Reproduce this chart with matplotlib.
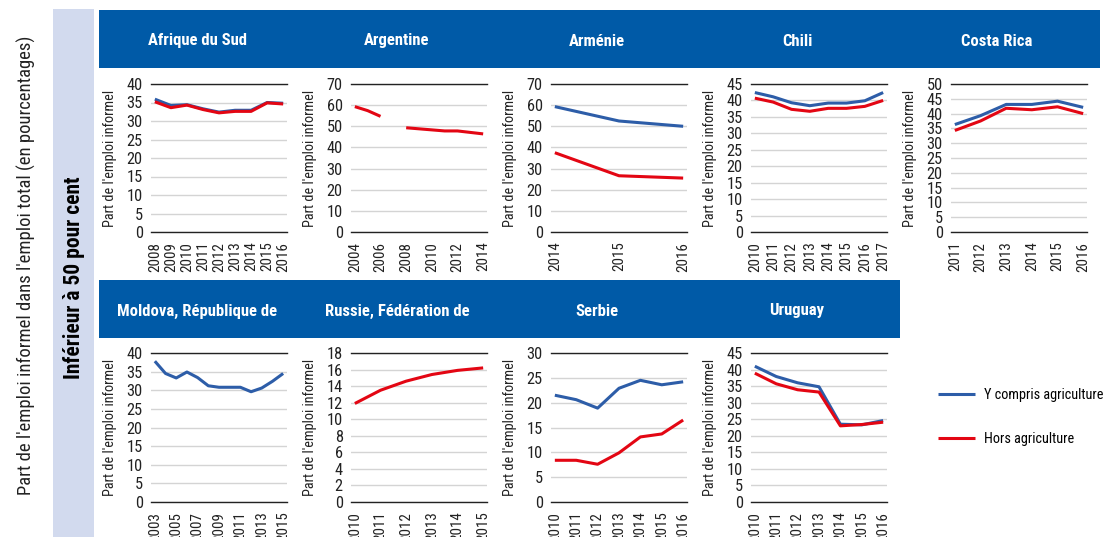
import numpy as np
import matplotlib
matplotlib.use('Agg')
import matplotlib.pyplot as plt
from matplotlib.patches import Rectangle
from matplotlib import font_manager

# police étroite si disponible
polices = font_manager.fontManager.ttflist
etroites = [f.name for f in polices
            if f.stretch in ('condensed', 'semi-condensed', 'extra-condensed')
            or 'Condensed' in f.name or 'Narrow' in f.name]
preferees = ['Roboto Condensed', 'Liberation Sans Narrow', 'Open Sans Condensed',
             'Noto Sans', 'DejaVu Sans']
police = None
for p in preferees:
    if p in etroites:
        police = p
        break
if police is None and etroites:
    police = etroites[0]
if police is not None:
    plt.rcParams['font.family'] = [police, 'DejaVu Sans']
    plt.rcParams['font.stretch'] = 'condensed'
    fz = 1.0
else:
    plt.rcParams['font.family'] = ['Liberation Sans', 'DejaVu Sans']
    fz = 0.86

nan = np.nan

# ---- Données ----
pays_haut = ['Afrique du Sud', 'Argentine', 'Arménie', 'Chili', 'Costa Rica']
pays_bas = ['Moldova, République de', 'Russie, Fédération de', 'Serbie', 'Uruguay']

annees_afs = [2008, 2009, 2010, 2011, 2012, 2013, 2014, 2015, 2016]
avec_afs = [35.9, 34.2, 34.4, 33.3, 32.4, 32.9, 32.9, 35.0, 34.8]
hors_afs = [35.2, 33.6, 34.3, 33.1, 32.2, 32.6, 32.6, 34.9, 34.6]

annees_arg = [2004, 2005, 2006, 2007, 2008, 2009, 2010, 2011, 2012, 2013, 2014]
avec_arg = [nan] * 11
hors_arg = [59.3, 57.4, 54.7, nan, 49.3, 48.8, 48.3, 47.8, 47.8, 47.1, 46.4]

annees_arm = [2014, 2015, 2016]
avec_arm = [59.3, 52.5, 50.0]
hors_arm = [37.5, 26.6, 25.5]

annees_chl = [2010, 2011, 2012, 2013, 2014, 2015, 2016, 2017]
avec_chl = [42.4, 41.1, 39.3, 38.4, 39.2, 39.2, 39.9, 42.4]
hors_chl = [40.7, 39.5, 37.3, 36.7, 37.6, 37.6, 38.2, 40.0]

annees_cri = [2011, 2012, 2013, 2014, 2015, 2016]
avec_cri = [36.3, 39.3, 43.1, 43.1, 44.2, 42.1]
hors_cri = [34.3, 37.5, 41.8, 41.3, 42.3, 40.0]

annees_mda = [2003, 2004, 2005, 2006, 2007, 2008, 2009, 2010, 2011, 2012, 2013, 2014, 2015]
avec_mda = [37.8, 34.5, 33.3, 34.9, 33.4, 31.2, 30.8, 30.8, 30.8, 29.6, 30.6, 32.4, 34.5]
hors_mda = [nan] * 13

annees_rus = [2010, 2011, 2012, 2013, 2014, 2015]
avec_rus = [nan] * 6
hors_rus = [11.9, 13.5, 14.6, 15.4, 15.9, 16.2]

annees_srb = [2010, 2011, 2012, 2013, 2014, 2015, 2016]
avec_srb = [21.5, 20.6, 18.9, 22.9, 24.5, 23.6, 24.2]
hors_srb = [8.4, 8.4, 7.6, 9.9, 13.1, 13.7, 16.5]

annees_ury = [2010, 2011, 2012, 2013, 2014, 2015, 2016]
avec_ury = [41.0, 37.9, 36.0, 34.8, 23.5, 23.3, 24.6]
hors_ury = [38.9, 35.7, 33.9, 33.2, 23.0, 23.4, 24.1]

# graduations
ymax = [40, 70, 70, 45, 50, 40, 18, 30, 45]
ypas = [5, 10, 10, 5, 5, 5, 2, 5, 5]
xpas = [1, 2, 1, 1, 1, 2, 1, 1, 1]

series = [
    (annees_afs, avec_afs, hors_afs),
    (annees_arg, avec_arg, hors_arg),
    (annees_arm, avec_arm, hors_arm),
    (annees_chl, avec_chl, hors_chl),
    (annees_cri, avec_cri, hors_cri),
    (annees_mda, avec_mda, hors_mda),
    (annees_rus, avec_rus, hors_rus),
    (annees_srb, avec_srb, hors_srb),
    (annees_ury, avec_ury, hors_ury),
]

# ---- Couleurs ----
bleu_titre = '#005aa7'
gris_bande = '#d2daee'
bleu = '#2d5da8'
rouge = '#e30613'

W, H = 1105, 537
fig = plt.figure(figsize=(W / 100, H / 100), dpi=100, facecolor='white')


def rect(x0, y0, x1, y1, couleur):
    # coordonnées en pixels (origine en haut à gauche)
    fig.patches.append(Rectangle((x0 / W, 1 - y1 / H), (x1 - x0) / W, (y1 - y0) / H,
                                 transform=fig.transFigure, facecolor=couleur,
                                 edgecolor='none', zorder=0))


# bandes de fond
rect(53, 9, 94, 537, gris_bande)
rect(99, 10, 1100, 68, bleu_titre)
rect(99, 280, 900, 338, bleu_titre)

fig.text(26 / W, 1 - 265 / H,
         "Part de l'emploi informel dans l'emploi total (en pourcentages)",
         rotation=90, ha='center', va='center', fontsize=13.4 * fz, color='#222222')
fig.text(74 / W, 1 - 278 / H, 'Inférieur à 50 pour cent', rotation=90,
         ha='center', va='center', fontsize=15.5 * fz, fontweight='bold', color='black')

for i, nom in enumerate(pays_haut):
    fig.text((197 + 200 * i) / W, 1 - 41 / H, nom, ha='center', va='center',
             fontsize=12 * fz, fontweight='bold', color='white')
for i, nom in enumerate(pays_bas):
    fig.text((197 + 200 * i) / W, 1 - 311 / H, nom, ha='center', va='center',
             fontsize=12 * fz, fontweight='bold', color='white')

lignes = []
for k, (annees, avec, hors) in enumerate(series):
    ligne = k // 5
    col = k % 5 if ligne == 0 else k - 5
    x0 = 151 + 200 * col
    y_top, y_bot = (84, 232) if ligne == 0 else (353, 502)
    ax = fig.add_axes([x0 / W, 1 - y_bot / H, 136 / W, (y_bot - y_top) / H])

    l1, = ax.plot(annees, avec, color=bleu, lw=2.2, solid_capstyle='butt', zorder=3)
    l2, = ax.plot(annees, hors, color=rouge, lw=2.2, solid_capstyle='butt', zorder=4)
    if k == 0:
        lignes = [l1, l2]

    ax.set_ylim(0, ymax[k])
    ax.set_yticks(np.arange(0, ymax[k] + 0.1, ypas[k]))
    ax.set_xticks(annees[::xpas[k]])
    ax.set_xticklabels([str(a) for a in annees[::xpas[k]]], rotation=90)
    ax.margins(x=0.03)
    ax.grid(axis='y', color='#d4d4d4', lw=1)
    ax.set_axisbelow(True)
    for s in ['left', 'right']:
        ax.spines[s].set_visible(False)
    for s in ['top', 'bottom']:
        ax.spines[s].set_color('#222222')
        ax.spines[s].set_linewidth(1)
    ax.tick_params(axis='y', length=0, pad=6, labelsize=11.8 * fz, labelcolor='#222222')
    ax.tick_params(axis='x', length=0, pad=7, labelsize=10.8 * fz, labelcolor='#222222')
    ax.set_ylabel("Part de l'emploi informel", fontsize=10.3 * fz, color='#222222')
    ax.yaxis.set_label_coords(-0.25, 0.5)

fig.legend(lignes, ['Y compris agriculture', 'Hors agriculture'],
           loc='center left', bbox_to_anchor=(938 / W, 1 - 417 / H),
           frameon=False, fontsize=10.3 * fz, handlelength=2.6, handletextpad=0.6,
           labelspacing=2.1, borderpad=0, borderaxespad=0)

plt.savefig('out.png', dpi=100, facecolor='white')
plt.close()
